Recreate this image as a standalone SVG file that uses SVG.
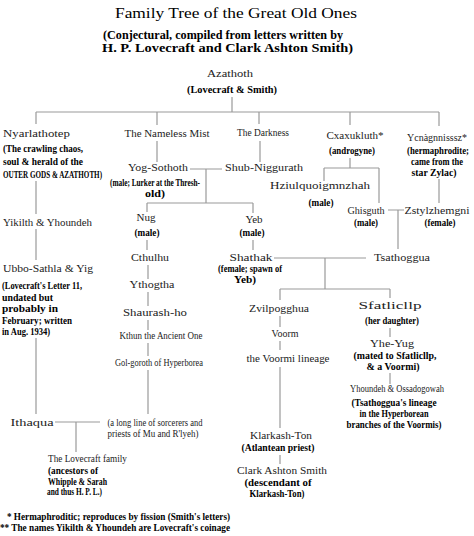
<svg xmlns="http://www.w3.org/2000/svg" width="474" height="536" viewBox="0 0 474 536">
<style>
.n{font-family:"Liberation Serif",serif;font-size:11px;fill:#222}
.s{font-family:"Liberation Serif",serif;font-size:10px;fill:#222}
.a{font-family:"Liberation Serif",serif;font-size:9.5px;font-weight:bold;fill:#000}
.m{text-anchor:middle}
.t{font-family:"Liberation Serif",serif;fill:#000}
.c{stroke:#9a9a9a;stroke-width:1.2;fill:none}
</style>
<rect width="474" height="536" fill="#fff"/>
<g id="title">
<text class="t" x="236" y="18" font-size="15" text-anchor="middle" textLength="242" lengthAdjust="spacingAndGlyphs">Family Tree of the Great Old Ones</text>
<text class="t" x="103" y="39" font-size="12.5" font-weight="bold" textLength="240" lengthAdjust="spacingAndGlyphs">(Conjectural, compiled from letters written by</text>
<text class="t" x="102" y="52" font-size="12.5" font-weight="bold" textLength="251" lengthAdjust="spacingAndGlyphs">H. P. Lovecraft and Clark Ashton Smith)</text>
</g>
<g id="connectors">
<path class="c" d="M232 97V112M36 112H439M36 112V124M157 112V125M259 112V124M350 112V125M439 112V126"/>
<path class="c" d="M36 181V214M36 229V260M36 338V414"/>
<path class="c" d="M55 422H100M76 422V452"/>
<path class="c" d="M157 141V162M260 141V162M190 169H222M206 169V203M147 203H253M147 203V212M253 203V213"/>
<path class="c" d="M147 240V250M253 240V250M148 265V279M148 292V306M148 320V330M148 343V356M148 370V414"/>
<path class="c" d="M350 158V168M324 168H379M324 168V181M379 168V203M388 210H404M398 210V249M439 179V203"/>
<path class="c" d="M274 258H366M325 258V289M280 289H390M280 289V300M390 289V298"/>
<path class="c" d="M280 316V327M280 341V350M280 367V428M280 455V464"/>
<path class="c" d="M390 328V337M390 373V384"/>
</g>
<g id="azathoth">
<text class="n m" x="230" y="77" textLength="46" lengthAdjust="spacingAndGlyphs">Azathoth</text>
<text class="a m" x="232" y="93" textLength="90" lengthAdjust="spacingAndGlyphs">(Lovecraft &amp; Smith)</text>
</g>
<g id="nyarlathotep">
<text class="n" x="3" y="137" textLength="67" lengthAdjust="spacingAndGlyphs">Nyarlathotep</text>
<text class="a" x="3" y="152" textLength="80" lengthAdjust="spacingAndGlyphs">(The crawling chaos,</text>
<text class="a" x="3" y="165" textLength="80" lengthAdjust="spacingAndGlyphs">soul &amp; herald of the</text>
<text class="a" x="3" y="178" textLength="99" lengthAdjust="spacingAndGlyphs">OUTER GODS &amp; AZATHOTH)</text>
</g>
<g id="yikilth">
<text class="n" x="3" y="226" textLength="89" lengthAdjust="spacingAndGlyphs">Yikilth &amp; Yhoundeh</text>
</g>
<g id="ubbo">
<text class="n" x="3" y="272" textLength="90" lengthAdjust="spacingAndGlyphs">Ubbo-Sathla &amp; Yig</text>
<text class="a" x="2" y="289" textLength="80" lengthAdjust="spacingAndGlyphs">(Lovecraft's Letter 11,</text>
<text class="a" x="2" y="300.5" textLength="51" lengthAdjust="spacingAndGlyphs">undated but</text>
<text class="a" x="2" y="312" textLength="56" lengthAdjust="spacingAndGlyphs">probably in</text>
<text class="a" x="2" y="323.5" textLength="70" lengthAdjust="spacingAndGlyphs">February; written</text>
<text class="a" x="2" y="335" textLength="48" lengthAdjust="spacingAndGlyphs">in Aug. 1934)</text>
</g>
<g id="ithaqua">
<text class="n m" x="32" y="426" textLength="43" lengthAdjust="spacingAndGlyphs">Ithaqua</text>
</g>
<g id="sorcerers">
<text class="s m" x="155" y="426" textLength="95" lengthAdjust="spacingAndGlyphs">(a long line of sorcerers and</text>
<text class="s m" x="153" y="437" textLength="91" lengthAdjust="spacingAndGlyphs">priests of Mu and R'lyeh)</text>
</g>
<g id="lovecraft-family">
<text class="n" x="48" y="462" textLength="79" lengthAdjust="spacingAndGlyphs">The Lovecraft family</text>
<text class="a" x="48" y="474" textLength="50" lengthAdjust="spacingAndGlyphs">(ancestors of</text>
<text class="a" x="48" y="484.5" textLength="59" lengthAdjust="spacingAndGlyphs">Whipple &amp; Sarah</text>
<text class="a" x="47" y="495" textLength="55" lengthAdjust="spacingAndGlyphs">and thus H. P. L.)</text>
</g>
<g id="nameless-mist">
<text class="n m" x="167" y="137" textLength="85" lengthAdjust="spacingAndGlyphs">The Nameless Mist</text>
</g>
<g id="yog-sothoth">
<text class="n m" x="158" y="171" textLength="60" lengthAdjust="spacingAndGlyphs">Yog-Sothoth</text>
<text class="a m" x="155" y="186" textLength="90" lengthAdjust="spacingAndGlyphs">(male; Lurker at the Thresh-</text>
<text class="a m" x="155" y="197" textLength="20" lengthAdjust="spacingAndGlyphs">old)</text>
</g>
<g id="darkness">
<text class="n m" x="263" y="136" textLength="52" lengthAdjust="spacingAndGlyphs">The Darkness</text>
</g>
<g id="shub-niggurath">
<text class="n m" x="264" y="171" textLength="78" lengthAdjust="spacingAndGlyphs">Shub-Niggurath</text>
</g>
<g id="nug">
<text class="n m" x="146" y="221">Nug</text>
<text class="a m" x="147" y="236" textLength="25" lengthAdjust="spacingAndGlyphs">(male)</text>
</g>
<g id="yeb">
<text class="n m" x="254" y="223">Yeb</text>
<text class="a m" x="252" y="236" textLength="25" lengthAdjust="spacingAndGlyphs">(male)</text>
</g>
<g id="cthulhu">
<text class="n m" x="150" y="261" textLength="38" lengthAdjust="spacingAndGlyphs">Cthulhu</text>
</g>
<g id="ythogtha">
<text class="n m" x="152" y="288" textLength="45" lengthAdjust="spacingAndGlyphs">Ythogtha</text>
</g>
<g id="shaurash-ho">
<text class="n m" x="155" y="316" textLength="64" lengthAdjust="spacingAndGlyphs">Shaurash-ho</text>
</g>
<g id="kthun">
<text class="n m" x="161" y="339" textLength="83" lengthAdjust="spacingAndGlyphs">Kthun the Ancient One</text>
</g>
<g id="gol-goroth">
<text class="n m" x="159" y="366" textLength="88" lengthAdjust="spacingAndGlyphs">Gol-goroth of Hyperborea</text>
</g>
<g id="cxaxukluth">
<text class="n m" x="355" y="139" textLength="57" lengthAdjust="spacingAndGlyphs">Cxaxukluth*</text>
<text class="a m" x="352" y="154" textLength="46" lengthAdjust="spacingAndGlyphs">(androgyne)</text>
</g>
<g id="hziulquoigmnzhah">
<text class="n m" x="320" y="189" textLength="100" lengthAdjust="spacingAndGlyphs">Hziulquoigmnzhah</text>
<text class="a m" x="321" y="206" textLength="25" lengthAdjust="spacingAndGlyphs">(male)</text>
</g>
<g id="ghisguth">
<text class="n m" x="366" y="214" textLength="37" lengthAdjust="spacingAndGlyphs">Ghisguth</text>
<text class="a m" x="366" y="226" textLength="24" lengthAdjust="spacingAndGlyphs">(male)</text>
</g>
<g id="ycnagnnisssz">
<text class="n m" x="437" y="141" textLength="60" lengthAdjust="spacingAndGlyphs">Ycnàgnnisssz*</text>
<text class="a m" x="438" y="154" textLength="62" lengthAdjust="spacingAndGlyphs">(hermaphrodite;</text>
<text class="a m" x="437" y="165" textLength="52" lengthAdjust="spacingAndGlyphs">came from the</text>
<text class="a m" x="434" y="176" textLength="45" lengthAdjust="spacingAndGlyphs">star Zylac)</text>
</g>
<g id="zstylzhemgni">
<text class="n m" x="437" y="214" textLength="65" lengthAdjust="spacingAndGlyphs">Zstylzhemgni</text>
<text class="a m" x="440" y="226" textLength="31" lengthAdjust="spacingAndGlyphs">(female)</text>
</g>
<g id="tsathoggua">
<text class="n m" x="402" y="261" textLength="56" lengthAdjust="spacingAndGlyphs">Tsathoggua</text>
</g>
<g id="shathak">
<text class="n m" x="251" y="261" textLength="43" lengthAdjust="spacingAndGlyphs">Shathak</text>
<text class="a m" x="250" y="272" textLength="64" lengthAdjust="spacingAndGlyphs">(female; spawn of</text>
<text class="a m" x="245" y="282.5" textLength="22" lengthAdjust="spacingAndGlyphs">Yeb)</text>
</g>
<g id="zvilpogghua">
<text class="n m" x="279" y="312" textLength="60" lengthAdjust="spacingAndGlyphs">Zvilpogghua</text>
</g>
<g id="voorm">
<text class="n m" x="285" y="337" textLength="27" lengthAdjust="spacingAndGlyphs">Voorm</text>
</g>
<g id="voormi">
<text class="n m" x="288" y="362" textLength="83" lengthAdjust="spacingAndGlyphs">the Voormi lineage</text>
</g>
<g id="klarkash-ton">
<text class="n m" x="281" y="439" textLength="62" lengthAdjust="spacingAndGlyphs">Klarkash-Ton</text>
<text class="a m" x="278" y="451" textLength="73" lengthAdjust="spacingAndGlyphs">(Atlantean priest)</text>
</g>
<g id="cas">
<text class="n m" x="282" y="474" textLength="90" lengthAdjust="spacingAndGlyphs">Clark Ashton Smith</text>
<text class="a m" x="278" y="486" textLength="67" lengthAdjust="spacingAndGlyphs">(descendant of</text>
<text class="a m" x="277" y="497" textLength="55" lengthAdjust="spacingAndGlyphs">Klarkash-Ton)</text>
</g>
<g id="sfatlicllp">
<text class="n m" x="390" y="309" textLength="63" lengthAdjust="spacingAndGlyphs">Sfatlicllp</text>
<text class="a m" x="392" y="324" textLength="54" lengthAdjust="spacingAndGlyphs">(her daughter)</text>
</g>
<g id="yug">
<text class="n m" x="392" y="347" textLength="44" lengthAdjust="spacingAndGlyphs">Yhe-Yug</text>
<text class="a m" x="395" y="359" textLength="83" lengthAdjust="spacingAndGlyphs">(mated to Sfatlicllp,</text>
<text class="a m" x="393" y="369.5" textLength="53" lengthAdjust="spacingAndGlyphs">&amp; a Voormi)</text>
</g>
<g id="hyperboreans">
<text class="s m" x="397" y="392" textLength="94" lengthAdjust="spacingAndGlyphs">Yhoundeh &amp; Ossadogowah</text>
<text class="a m" x="394" y="406" textLength="85" lengthAdjust="spacingAndGlyphs">(Tsathoggua's lineage</text>
<text class="a m" x="394" y="417" textLength="69" lengthAdjust="spacingAndGlyphs">in the Hyperborean</text>
<text class="a m" x="394" y="428" textLength="95" lengthAdjust="spacingAndGlyphs">branches of the Voormis)</text>
</g>
<g id="notes">
<text class="a" x="7" y="520" textLength="223" lengthAdjust="spacingAndGlyphs">* Hermaphroditic; reproduces by fission (Smith's letters)</text>
<text class="a" x="0" y="531" textLength="230" lengthAdjust="spacingAndGlyphs">** The names Yikilth &amp; Yhoundeh are Lovecraft's coinage</text>
</g>
</svg>
